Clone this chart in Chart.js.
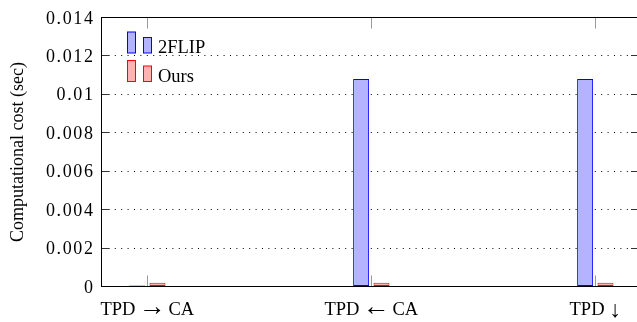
<!DOCTYPE html>
<html>
<head>
<meta charset="utf-8">
<script src="https://cdn.jsdelivr.net/npm/chart.js@4.4.1/dist/chart.umd.min.js"></script>
<style>
html,body{margin:0;padding:0;background:#fff;overflow:hidden;width:637px;height:322px;}
canvas{display:block;}
</style>
</head>
<body>
<canvas id="c" width="641" height="322" style="width:641px;height:322px"></canvas>
<script>
const categories = ['TPD \u2192 CA', 'TPD \u2190 CA', 'TPD \u2193'];
const seriesNames = ['2FLIP', 'Ours'];
const flipCost = [0.00005, 0.0108, 0.0108];
const oursCost = [0.00019, 0.00019, 0.00019];
const yTickValues = [0, 0.002, 0.004, 0.006, 0.008, 0.01, 0.012, 0.014];
const yTickLabels = ['0', '0.002', '0.004', '0.006', '0.008', '0.01', '0.012', '0.014'];
const yTitle = 'Computational cost (sec)';

const FONT = '"Liberation Serif", "Times New Roman", serif';
const colors = [
  {fill: '#b3b3ff', stroke: '#0000ff'},
  {fill: '#ffb3b3', stroke: '#ff0000'}
];

const toPoints = arr => arr.map((v, i) => ({x: i, y: v}));
const isHArrow = s => /[\u2190\u2192]/.test(s);
const isVArrow = s => /[\u2191\u2193]/.test(s);
const partFont = p => isHArrow(p) ? '27px ' + FONT : (isVArrow(p) ? '23px ' + FONT : '18.5px ' + FONT);

function drawLabel(ctx, label, cx, baseline) {
  const parts = label.split(' ');
  const widths = parts.map(p => { ctx.font = partFont(p); return ctx.measureText(p).width; });
  const gaps = parts.slice(1).map((p, i) => (isHArrow(p) || isHArrow(parts[i])) ? 3 : 5);
  const total = widths.reduce((s, w) => s + w, 0) + gaps.reduce((s, g) => s + g, 0);
  let x = cx - total / 2;
  ctx.textAlign = 'left';
  parts.forEach((p, i) => {
    ctx.font = partFont(p);
    const dy = isVArrow(p) ? 2 : 0;
    ctx.fillText(p, x, baseline + dy);
    x += widths[i] + (i < gaps.length ? gaps[i] : 0);
  });
}

const decor = {
  id: 'decor',
  afterDatasetsDraw(chart) {
    const ctx = chart.ctx;
    const a = chart.chartArea;
    const xs = chart.scales.x, ys = chart.scales.y;
    ctx.save();
    ctx.strokeStyle = '#9a9a9a';
    ctx.lineWidth = 1;
    categories.forEach((c, i) => {
      const px = Math.round(xs.getPixelForValue(i)) + 0.5;
      ctx.beginPath();
      ctx.moveTo(px, a.bottom); ctx.lineTo(px, a.bottom - 11);
      ctx.moveTo(px, a.top); ctx.lineTo(px, a.top + 11);
      ctx.stroke();
    });
    ctx.strokeStyle = '#333';
    yTickValues.forEach(v => {
      const py = Math.round(ys.getPixelForValue(v) - 0.5) + 0.5;
      ctx.beginPath();
      ctx.moveTo(a.left, py); ctx.lineTo(a.left + 8, py);
      ctx.moveTo(a.right, py); ctx.lineTo(a.right - 8, py);
      ctx.stroke();
    });
    ctx.strokeStyle = '#000';
    ctx.strokeRect(a.left, a.top, a.right - a.left, a.bottom - a.top);

    ctx.fillStyle = '#000';
    ctx.font = '18px ' + FONT;
    ctx.textAlign = 'right';
    ctx.textBaseline = 'alphabetic';
    ctx.letterSpacing = '1.6px';
    yTickValues.forEach((v, i) => {
      const py = ys.getPixelForValue(v);
      ctx.fillText(yTickLabels[i], a.left - 7, py + 6);
    });
    ctx.letterSpacing = '0px';
    categories.forEach((c, i) => {
      drawLabel(ctx, c, xs.getPixelForValue(i), 315);
    });
    ctx.save();
    ctx.translate(23, (a.top + a.bottom) / 2);
    ctx.rotate(-Math.PI / 2);
    ctx.font = '18px ' + FONT;
    ctx.textAlign = 'center';
    ctx.fillText(yTitle, 0, 0);
    ctx.restore();

    const rows = [53, 81.5];
    seriesNames.forEach((name, i) => {
      const base = rows[i];
      ctx.fillStyle = colors[i].fill;
      ctx.strokeStyle = colors[i].stroke;
      ctx.lineWidth = 1;
      ctx.fillRect(127.5, base - 21, 8, 21);
      ctx.strokeRect(127.5, base - 21, 8, 21);
      ctx.fillRect(143.5, base - 15.5, 8, 15.5);
      ctx.strokeRect(143.5, base - 15.5, 8, 15.5);
      ctx.fillStyle = '#000';
      ctx.textAlign = 'left';
      ctx.font = '18.5px ' + FONT;
      ctx.fillText(name, 158, base);
    });
    ctx.restore();
  }
};

new Chart(document.getElementById('c'), {
  type: 'bar',
  data: {
    datasets: [
      {label: seriesNames[0], data: toPoints(flipCost), backgroundColor: colors[0].fill, borderColor: colors[0].stroke, borderWidth: 1, borderSkipped: false},
      {label: seriesNames[1], data: toPoints(oursCost), backgroundColor: colors[1].fill, borderColor: colors[1].stroke, borderWidth: 1, borderSkipped: false}
    ]
  },
  options: {
    responsive: false,
    animation: false,
    devicePixelRatio: 1,
    categoryPercentage: 0.182,
    barPercentage: 0.784,
    layout: {padding: {top: 17.5, right: 2, left: 0, bottom: 0}},
    plugins: {legend: {display: false}, tooltip: {enabled: false}},
    scales: {
      x: {
        type: 'linear',
        offset: false,
        min: -0.2045,
        max: 2.1951,
        afterBuildTicks(scale) { scale.ticks = categories.map((c, i) => ({value: i})); },
        afterFit(scale) { scale.height = 35.5; },
        ticks: {display: false},
        grid: {display: false, offset: false},
        border: {display: false}
      },
      y: {
        min: 0,
        max: 0.014,
        afterBuildTicks(scale) { scale.ticks = yTickValues.map(v => ({value: v})); },
        afterFit(scale) { scale.width = 101.5; },
        ticks: {display: false},
        grid: {drawTicks: false, color: '#000', lineWidth: 1},
        border: {display: false, dash: [1, 5.4]}
      }
    }
  },
  plugins: [decor]
});
</script>
</body>
</html>
